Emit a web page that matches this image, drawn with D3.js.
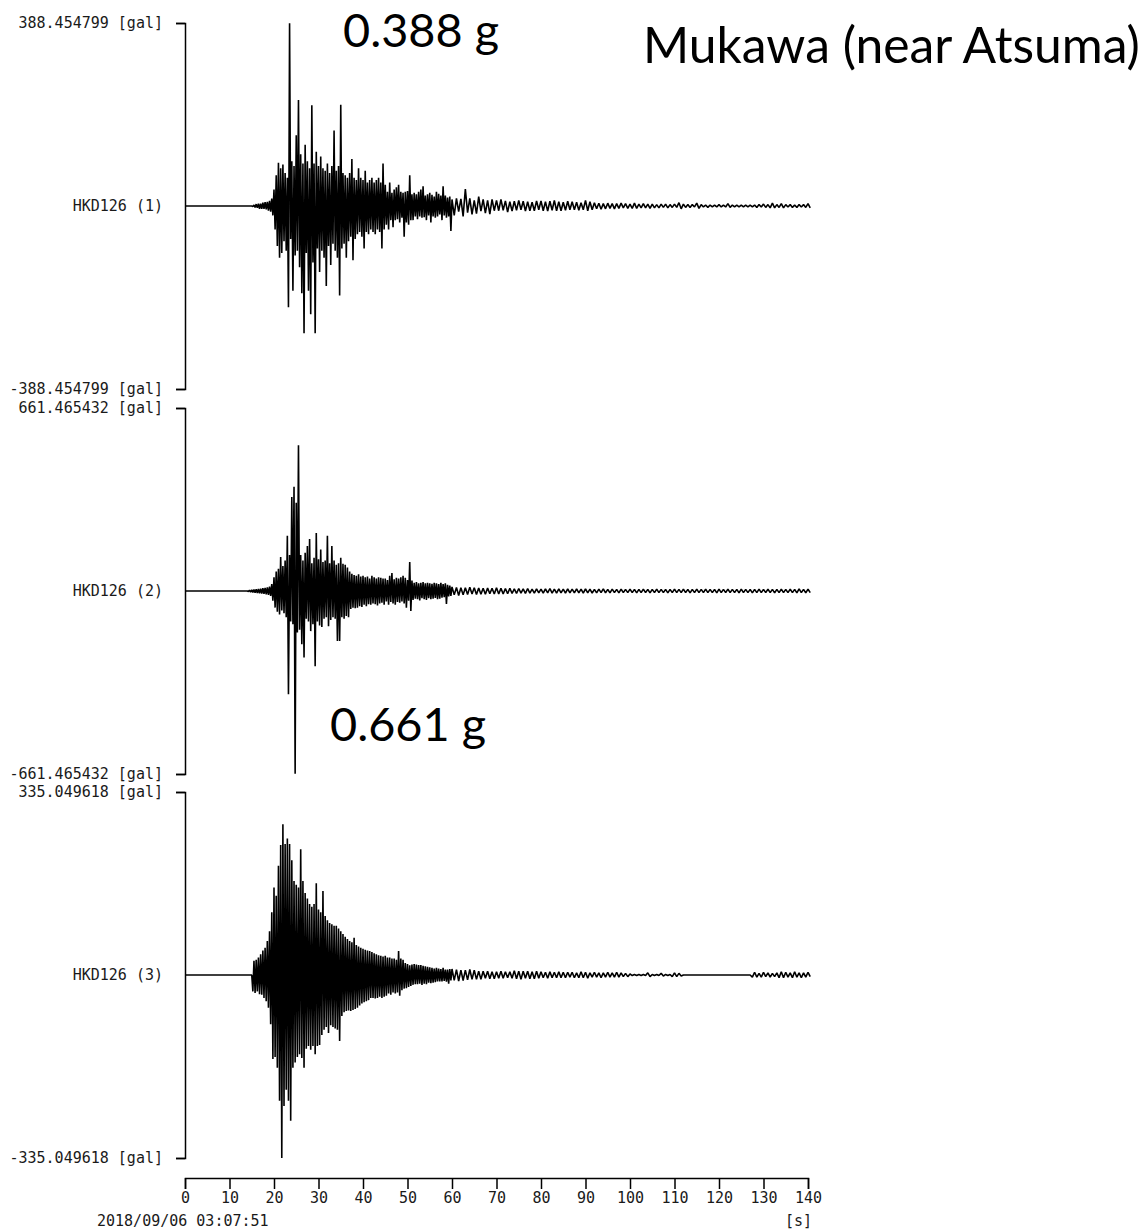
<!DOCTYPE html>
<html><head><meta charset="utf-8">
<script src="https://cdn.jsdelivr.net/npm/d3@7"></script>
<style>
html,body{margin:0;padding:0;background:#fff;}
svg{display:block;}
.ax text{font-family:"DejaVu Sans Mono",monospace;font-size:15px;fill:#1a1a1a;}
.ax path,.ax line{stroke:#000;stroke-width:1.5;}
.note{font-family:Lato,"Open Sans",sans-serif;font-size:46px;fill:#000;}
</style></head><body>
<svg id="c" width="1148" height="1230"></svg>
<script>
// ---- data ----
const channels = ["HKD126 (1)", "HKD126 (2)", "HKD126 (3)"];
const ampLabels = ["388.454799", "661.465432", "335.049618"];
const ampMax = [388.454799, 661.465432, 335.049618];
const unitLabel = "[gal]";
const xTicks = [0,10,20,30,40,50,60,70,80,90,100,110,120,130,140];
const startTime = "2018/09/06 03:07:51";
const xUnit = "[s]";
const titleText = "Mukawa (near Atsuma)";
const peakNotes = ["0.388 g", "0.661 g"];

// peak values (gal): strong part every 0.25 s from 14 s, tail every 0.5 s from 60 s
const strongStart = 14, strongStep = 0.25, tailStart = 60, tailStep = 0.5;

const ch1Strong = [
 0,0,0,0,0,-1,2,-3,
 4,-4,5,-6,5,-6,7,-6,
 8,-7,9,-10,11,-12,16,-20,
 35,-50,65,-85,92,-110,80,-100,
 88,-75,70,-95,60,-215,388,-70,
 95,-180,85,-105,150,-95,225,-130,
 110,-185,90,-270,130,-100,95,-180,
 80,-230,214,-120,90,-270,115,-90,
 85,-140,105,-95,80,-110,75,-170,
 90,-85,70,-125,85,-80,160,-95,
 75,-110,85,-190,215,-90,70,-80,
 65,-110,60,-75,70,-65,100,-115,
 60,-70,55,-60,80,-55,60,-65,
 55,-90,75,-55,50,-60,55,-50,
 60,-55,50,-60,55,-50,60,-55,
 50,-90,90,-50,45,-40,30,-50,
 50,-30,28,-45,35,-30,40,-28,
 45,-35,30,-25,28,-65,30,-35,
 32,-40,65,-30,25,-30,28,-22,
 25,-28,30,-22,35,-25,42,-24,
 22,-30,25,-20,28,-35,24,-22,
 20,-25,30,-22,26,-18,22,-30,
 42,-20,22,-25,18,-22,20,-53];
const ch1Tail = [
 14,-20,16,-12,15,-22,36,-14,16,-18,
 12,-16,20,-11,14,-15,12,-17,14,-10,
 12,-10,14,-9,11,-13,9,-11,10,-9,
 12,-8,10,-11,9,-10,8,-10,11,-8,
 11,-10,9,-11,10,-9,12,-10,9,-10,
 8,-9,10,-8,9,-8,8,-9,7,-8,
 12,-10,9,-8,7,-6,6,-7,5,-6,
 6,-5,5,-6,5,-5,6,-4,5,-5,
 4,-5,6,-5,4,-4,5,-4,4,-5,
 4,-4,3,-4,4,-3,4,-4,3,-3,
 4,-3,7,-6,4,-3,3,-3,3,-2,
 6,-5,3,-2,2,-3,2,-2,2,-2,
 3,-2,2,-2,5,-3,2,-2,2,-2,
 2,-2,2,-2,2,-2,2,-3,3,-2,
 4,-3,3,-4,6,-4,3,-3,5,-4,
 3,-2,3,-3,2,-3,3,-2,3,-3,
 5,-4];

const ch2Strong = [
 0,-2,3,-4,4,-5,5,-6,
 6,-7,7,-8,8,-9,10,-10,
 11,-12,13,-14,16,-18,25,-35,
 50,-60,70,-75,80,-85,123,-70,
 90,-80,110,-95,200,-373,130,-110,
 340,-120,377,-661,319,-150,527,-140,
 130,-192,110,-240,138,-100,163,-110,
 188,-145,100,-120,120,-272,210,-110,
 115,-125,150,-130,105,-100,110,-95,
 200,-127,100,-105,163,-95,110,-100,
 95,-181,100,-181,120,-95,98,-100,
 95,-90,85,-95,70,-65,62,-60,
 58,-62,55,-60,60,-55,52,-58,
 55,-50,50,-55,52,-48,45,-50,
 55,-45,50,-48,45,-52,50,-45,
 48,-42,45,-50,45,-38,40,-50,
 55,-40,65,-45,42,-50,48,-40,
 45,-42,50,-38,55,-45,48,-60,
 40,-35,105,-72,38,-32,30,-28,
 32,-30,28,-34,30,-26,32,-30,
 28,-32,30,-26,28,-30,26,-28,
 30,-25,28,-30,25,-28,30,-24,
 25,-22,28,-47,22,-20,20,-18];
const ch2Tail = [
 15,-14,13,-16,12,-14,12,-13,14,-11,
 12,-13,11,-12,10,-12,11,-10,10,-11,
 12,-11,10,-11,9,-10,10,-9,8,-9,
 9,-8,8,-9,9,-8,7,-8,8,-7,
 7,-8,8,-7,9,-8,7,-8,8,-7,
 7,-8,8,-7,7,-7,8,-7,7,-8,
 8,-7,7,-8,6,-7,7,-6,8,-7,
 6,-7,7,-6,6,-7,7,-6,6,-6,
 7,-6,6,-7,6,-6,7,-6,6,-7,
 6,-6,7,-6,6,-6,6,-7,6,-6,
 7,-6,6,-6,7,-6,6,-7,6,-6,
 7,-6,6,-6,7,-6,6,-6,6,-7,
 7,-6,6,-6,7,-6,6,-6,6,-7,
 7,-6,6,-6,6,-7,6,-6,7,-6,
 6,-6,7,-6,6,-7,6,-6,7,-6,
 6,-6,7,-6,6,-7,8,-6,6,-7,
 7,-6];

const ch3Strong = [
 0,0,0,0,0,-30,26,-33,
 28,-30,32,-35,38,-36,45,-42,
 50,-48,62,-60,80,-90,115,-154,
 160,-150,145,-170,200,-230,238,-335,
 276,-240,240,-210,250,-230,240,-267,
 210,-170,172,-160,165,-150,160,-145,
 230,-152,172,-170,150,-135,140,-130,
 130,-137,125,-130,130,-145,168,-130,
 120,-128,115,-110,154,-100,108,-95,
 100,-106,95,-92,93,-95,90,-98,
 90,-100,85,-121,80,-75,75,-68,
 70,-66,66,-65,62,-66,60,-64,
 68,-62,55,-60,52,-56,50,-52,
 48,-50,46,-48,45,-46,44,-42,
 42,-42,40,-43,38,-42,36,-40,
 35,-42,34,-40,35,-38,32,-34,
 32,-36,30,-32,30,-34,28,-32,
 44,-38,30,-28,28,-25,22,-24,
 20,-22,18,-20,19,-18,20,-17,
 19,-17,18,-16,18,-18,17,-16,
 16,-17,15,-14,14,-15,13,-14,
 12,-13,13,-12,12,-12,11,-12,
 13,-11,10,-12,10,-16,11,-10];
const ch3Tail = [
 11,-10,10,-11,9,-10,9,-9,10,-8,
 9,-8,7,-8,7,-6,7,-7,6,-7,
 6,-6,7,-6,6,-5,6,-6,8,-7,
 7,-8,7,-6,7,-7,6,-7,7,-6,
 6,-5,5,-6,6,-5,5,-5,6,-5,
 5,-5,5,-4,5,-5,4,-5,6,-5,
 5,-6,4,-4,5,-4,4,-5,4,-4,
 5,-4,4,-4,5,-4,4,-3,3,-3,
 2,-1,1,-1,1,-1,1,-1,4,-3,
 1,-1,1,-1,3,-2,1,-1,1,-3,
 4,-3,3,-2,0,0,0,0,0,0,
 0,0,0,0,0,0,0,0,0,0,
 0,0,0,0,0,0,0,0,0,0,
 0,0,0,0,0,-4,5,-4,3,-4,
 5,-3,4,-4,3,-3,4,-5,6,-5,
 5,-4,4,-5,6,-4,4,-5,4,-4,
 5,-3];

const strongSeries = [ch1Strong, ch2Strong, ch3Strong];
const tailSeries = [ch1Tail, ch2Tail, ch3Tail];

// ---- drawing ----
const svg = d3.select("#c");
const x = d3.scaleLinear().domain([0, 140]).range([185, 808]);
const panelTops = [23, 408, 792];
const panelH = 366;
const monoFont = "'DejaVu Sans Mono',monospace";

channels.forEach((name, k) => {
  const top = panelTops[k], bot = top + panelH;
  const y = d3.scaleLinear().domain([-ampMax[k], ampMax[k]]).range([bot, top]);
  const pts = [[0, 0]]
    .concat(strongSeries[k].map((v, i) => [strongStart + i * strongStep, v]))
    .concat(tailSeries[k].map((v, i) => [tailStart + i * tailStep, v]));

  const ax = d3.axisLeft(y)
    .tickValues([ampMax[k], -ampMax[k]])
    .tickSizeInner(9).tickSizeOuter(9).tickPadding(13)
    .tickFormat(d => (d < 0 ? "-" : "") + ampLabels[k] + " " + unitLabel);
  svg.append("g").attr("class", "ax").attr("transform", "translate(185,0)").call(ax);

  svg.append("text")
    .attr("x", 163).attr("y", y(0)).attr("dy", "0.32em")
    .attr("text-anchor", "end")
    .style("font-family", monoFont).style("font-size", "15px").style("fill", "#1a1a1a")
    .text(name);

  svg.append("path").datum(pts)
    .attr("fill", "none").attr("stroke", "#000").attr("stroke-width", 1.6)
    .attr("stroke-linejoin", "bevel")
    .attr("d", d3.line().x(d => x(d[0])).y(d => y(d[1])));
});

// time axis
const xa = d3.axisBottom(x).tickValues(xTicks).tickSizeInner(11).tickSizeOuter(11).tickPadding(3);
svg.append("g").attr("class", "ax").attr("transform", "translate(0,1178)").call(xa);

svg.append("text")
  .attr("x", 97).attr("y", 1226)
  .style("font-family", monoFont).style("font-size", "15px").style("fill", "#1a1a1a")
  .text(startTime);
svg.append("text")
  .attr("x", 812).attr("y", 1226).attr("text-anchor", "end")
  .style("font-family", monoFont).style("font-size", "15px").style("fill", "#1a1a1a")
  .text(xUnit);

// annotations, fitted to the reference widths
function note(txt, x0, base, width) {
  const t = svg.append("text").attr("class", "note").attr("x", x0).attr("y", base).text(txt);
  const w = t.node().getComputedTextLength();
  if (w > 0) t.style("font-size", (46 * width / w).toFixed(2) + "px");
  return t;
}
note(peakNotes[0], 343, 47, 156);
note(peakNotes[1], 330, 741, 156);
note(titleText, 643, 63, 497);
</script>
</body></html>
